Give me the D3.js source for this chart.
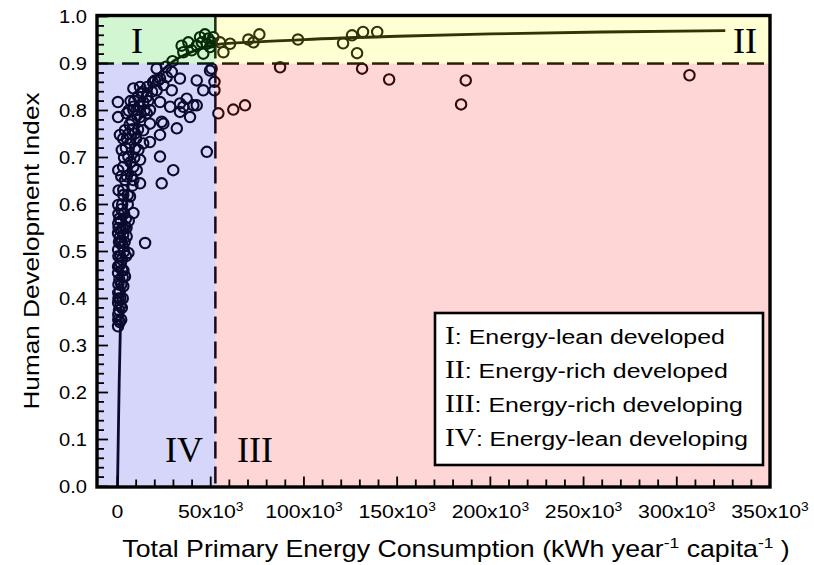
<!DOCTYPE html>
<html>
<head>
<meta charset="utf-8">
<script src="https://cdn.jsdelivr.net/npm/d3@7"></script>
<style>
  body { margin: 0; background: #fff; }
  svg { display: block; }
</style>
</head>
<body>
<svg id="chart" width="814" height="565"></svg>
<script>
// Countries: [primary energy consumption (thousand kWh / year / capita), HDI]
const countryPoints = [
  // energy-rich, HDI above and below 0.9
  [55.0, 0.945], [56.8, 0.924], [60.4, 0.942], [70.2, 0.951], [72.9, 0.945], [76.1, 0.962],
  [96.8, 0.951], [121.0, 0.943], [125.8, 0.960], [131.7, 0.967], [139.3, 0.967], [128.5, 0.922],
  [131.2, 0.889], [145.7, 0.866], [186.8, 0.864], [184.3, 0.813], [306.8, 0.875], [87.2, 0.892],
  [68.4, 0.811], [62.1, 0.802], [54.1, 0.794],
  // energy-lean developed
  [34.4, 0.938], [38.0, 0.945], [35.3, 0.924], [39.8, 0.928], [42.5, 0.938], [44.3, 0.956],
  [46.9, 0.962], [48.7, 0.953], [47.9, 0.942], [46.0, 0.921], [49.6, 0.935], [50.5, 0.945],
  [45.2, 0.945], [51.4, 0.956], [29.5, 0.905],
  // energy-lean developing, upper band
  [26.0, 0.893], [50.5, 0.889], [52.0, 0.861], [52.0, 0.843], [47.9, 0.712], [46.0, 0.843],
  [42.5, 0.864], [49.6, 0.885], [21.0, 0.889], [29.1, 0.882], [26.4, 0.871], [22.8, 0.868],
  [20.1, 0.864], [24.6, 0.854], [33.5, 0.868], [12.1, 0.850], [13.0, 0.836], [15.7, 0.829],
  [21.0, 0.843], [29.1, 0.843], [8.5, 0.808], [10.3, 0.801], [0.2, 0.818], [0.3, 0.786],
  [37.1, 0.825], [35.3, 0.808], [40.7, 0.811], [38.9, 0.786], [33.5, 0.797], [28.2, 0.808],
  [23.7, 0.776], [31.8, 0.762], [22.8, 0.748], [17.4, 0.733], [22.8, 0.702], [29.9, 0.673],
  [23.7, 0.645], [22.8, 0.818], [33.5, 0.815], [42.5, 0.811], [24.6, 0.772], [21.9, 0.864],
  [8.5, 0.847], [13.8, 0.818], [17.4, 0.801], [12.1, 0.786],
  // energy-lean developing, main cluster
  [1.3, 0.748], [2.3, 0.716], [0.4, 0.673], [4.0, 0.652], [3.1, 0.631], [8.5, 0.652],
  [10.3, 0.673], [12.1, 0.695], [13.8, 0.730], [9.4, 0.751], [7.6, 0.779], [8.5, 0.801],
  [12.1, 0.808], [15.7, 0.794], [17.4, 0.772], [5.8, 0.702], [6.7, 0.730], [4.0, 0.758],
  [4.9, 0.794], [13.8, 0.758], [11.2, 0.716], [8.5, 0.680], [12.1, 0.645], [6.7, 0.617],
  [3.5, 0.700], [5.0, 0.740], [6.5, 0.770], [7.0, 0.690], [9.5, 0.720], [11.0, 0.760],
  [3.0, 0.680], [2.0, 0.660], [10.5, 0.790], [14.5, 0.800], [16.5, 0.820], [18.5, 0.840],
  [5.5, 0.620], [8.0, 0.640], [2.5, 0.600],
  [5.0, 0.660], [7.5, 0.660], [9.0, 0.700], [4.5, 0.720], [6.0, 0.750], [8.0, 0.760],
  [10.0, 0.740], [3.0, 0.740], [6.0, 0.800], [9.0, 0.820], [11.0, 0.830], [13.5, 0.840],
  [16.0, 0.850], [19.0, 0.860], [7.0, 0.820],
  // energy-lean developing, low HDI column
  [3.1, 0.620], [0.4, 0.599], [8.5, 0.582], [14.8, 0.518], [0.4, 0.560], [4.0, 0.553],
  [0.3, 0.539], [4.9, 0.532], [1.3, 0.518], [5.8, 0.497], [0.3, 0.504], [2.3, 0.483],
  [0.3, 0.468], [4.0, 0.447], [0.3, 0.454], [3.1, 0.426], [0.4, 0.412], [0.3, 0.391],
  [2.3, 0.380], [0.4, 0.366], [0.3, 0.341],
  [1.0, 0.570], [2.0, 0.545], [3.0, 0.510], [1.5, 0.490], [2.5, 0.460], [1.0, 0.440],
  [3.5, 0.580], [2.0, 0.590], [1.5, 0.400], [0.8, 0.375], [2.0, 0.355], [1.0, 0.470],
  [3.0, 0.535], [0.8, 0.520], [4.5, 0.570], [5.5, 0.600], [0.6, 0.630], [6.0, 0.565],
  [0.5, 0.580], [1.8, 0.565], [2.8, 0.550], [0.6, 0.550], [1.2, 0.530], [2.2, 0.520],
  [3.5, 0.500], [0.5, 0.490], [1.8, 0.475], [3.2, 0.460], [0.5, 0.430], [2.0, 0.430],
  [1.2, 0.415], [2.8, 0.400], [0.5, 0.400], [1.5, 0.385], [0.4, 0.355], [1.2, 0.350],
  [2.8, 0.445], [4.5, 0.490], [3.8, 0.520], [4.8, 0.550]
];

// Fitted trend (thousand kWh, HDI)
const fitEnergyK = [0, 0.4, 0.9, 1.5, 2.5, 4, 6, 9, 13, 18, 24, 30, 40, 53, 75, 100, 150, 200, 260, 326];
const fitHdi = [0.0, 0.10, 0.22, 0.33, 0.45, 0.56, 0.65, 0.73, 0.80, 0.855, 0.885, 0.905, 0.925, 0.940, 0.946, 0.951, 0.958, 0.963, 0.967, 0.970];

const xTickValues = [0, 50000, 100000, 150000, 200000, 250000, 300000, 350000];
const yTickValues = [0, 0.1, 0.2, 0.3, 0.4, 0.5, 0.6, 0.7, 0.8, 0.9, 1.0];
const hdiThreshold = 0.9;
const energyThreshold = 52500;
const quadrantNumerals = ["I", "II", "III", "IV"];
const legendNames = ["Energy-lean developed", "Energy-rich developed", "Energy-rich developing", "Energy-lean developing"];

const svg = d3.select("#chart");
const sans = "'Liberation Sans', Arial, sans-serif";
const serif = "'Liberation Serif', 'Times New Roman', serif";

const x = d3.scaleLinear().domain([-11000, 350000]).range([97, 770]);
const y = d3.scaleLinear().domain([0, 1]).range([486.5, 16.5]);
const [x0, x1] = x.range();
const [yb, yt] = y.range();

// Widen a text horizontally about its anchor point
function stretchX(node, ax, ay, s) {
  d3.select(node).attr("transform", `translate(${ax},${ay}) scale(${s},1) translate(${-ax},${-ay})`);
}
function fitWidth(node, ax, ay, width) {
  const w = node.getBBox().width;
  stretchX(node, ax, ay, width / w);
}

svg.append("rect").attr("width", 814).attr("height", 565).attr("fill", "#fff");

// Marks sit beneath the tinted quadrant washes
const marks = svg.append("g");
marks.selectAll("circle").data(countryPoints).join("circle")
  .attr("cx", d => x(d[0] * 1000))
  .attr("cy", d => y(d[1]))
  .attr("r", 5.2)
  .attr("fill", "none")
  .attr("stroke", "#000")
  .attr("stroke-width", 2.1);

marks.append("path")
  .datum(fitEnergyK.map((e, i) => [e * 1000, fitHdi[i]]))
  .attr("fill", "none")
  .attr("stroke", "#000")
  .attr("stroke-width", 2.8)
  .attr("d", d3.line().x(d => x(d[0])).y(d => y(d[1])).curve(d3.curveMonotoneX));

marks.append("line")
  .attr("x1", x0).attr("x2", x1)
  .attr("y1", y(hdiThreshold)).attr("y2", y(hdiThreshold))
  .attr("stroke", "#000").attr("stroke-width", 2.5).attr("stroke-dasharray", "17,8");
marks.append("line")
  .attr("x1", x(energyThreshold)).attr("x2", x(energyThreshold))
  .attr("y1", yt).attr("y2", yb)
  .attr("stroke", "#000").attr("stroke-width", 2.5).attr("stroke-dasharray", "17,8");

// Quadrant washes (translucent, tint the marks below)
const washes = [
  { x: x0, y: yt, x2: x(energyThreshold), y2: y(hdiThreshold), c: "rgb(30,205,30)" },
  { x: x(energyThreshold), y: yt, x2: x1, y2: y(hdiThreshold), c: "rgb(255,255,40)" },
  { x: x(energyThreshold), y: y(hdiThreshold), x2: x1, y2: yb, c: "rgb(255,50,50)" },
  { x: x0, y: y(hdiThreshold), x2: x(energyThreshold), y2: yb, c: "rgb(50,50,230)" }
];
svg.append("g").selectAll("rect").data(washes).join("rect")
  .attr("x", d => d.x).attr("y", d => d.y)
  .attr("width", d => d.x2 - d.x).attr("height", d => d.y2 - d.y)
  .attr("fill", d => d.c).attr("fill-opacity", 0.2);

// Quadrant numerals
const numeralPos = [[137, 53], [745, 53], [255, 462], [184, 462]];
svg.append("g").selectAll("text").data(quadrantNumerals).join("text")
  .attr("x", (d, i) => numeralPos[i][0]).attr("y", (d, i) => numeralPos[i][1])
  .attr("text-anchor", "middle")
  .attr("font-family", serif).attr("font-size", 36)
  .attr("fill", "#000")
  .text(d => d);

// Axes: inward ticks, major and minor
const axes = svg.append("g").attr("stroke", "#000");
const yMinor = d3.range(0, 1.0001, 0.02);
axes.selectAll(".ytick").data(yMinor).join("line")
  .attr("x1", x0).attr("x2", (d, i) => x0 + (i % 5 === 0 ? 11 : 7))
  .attr("y1", d => y(d)).attr("y2", d => y(d))
  .attr("stroke-width", 1.8);
const xMinor = d3.range(0, 350001, 10000);
axes.selectAll(".xtick").data(xMinor).join("line")
  .attr("x1", d => x(d)).attr("x2", d => x(d))
  .attr("y1", yb).attr("y2", (d, i) => yb - (i % 5 === 0 ? 10 : 7))
  .attr("stroke-width", 1.8);

svg.append("rect")
  .attr("x", x0).attr("y", yt - 1)
  .attr("width", x1 - x0).attr("height", yb - yt + 1.5)
  .attr("fill", "none").attr("stroke", "#000").attr("stroke-width", 3.4);

// Tick labels
svg.append("g").selectAll("text").data(yTickValues).join("text")
  .attr("x", 87).attr("y", d => y(d) + 6.5)
  .attr("text-anchor", "end")
  .attr("font-family", sans).attr("font-size", 18)
  .text(d => d3.format(".1f")(d))
  .each(function (d) { stretchX(this, 87, y(d), 1.12); });

svg.append("g").selectAll("text").data(xTickValues).join("text")
  .attr("x", d => x(d)).attr("y", 518)
  .attr("text-anchor", "middle")
  .attr("font-family", sans).attr("font-size", 18.5)
  .each(function (d) {
    const t = d3.select(this);
    if (d === 0) { t.text("0"); } else {
      t.append("tspan").text(`${d / 1000}x10`);
      t.append("tspan").attr("font-size", 12).attr("dy", -7).text("3");
    }
    stretchX(this, x(d), 518, 1.15);
  });

// Axis titles
const xt = svg.append("text")
  .attr("x", 456).attr("y", 557)
  .attr("text-anchor", "middle")
  .attr("font-family", sans).attr("font-size", 23);
xt.append("tspan").text("Total Primary Energy Consumption (kWh year");
xt.append("tspan").attr("font-size", 15).attr("dy", -9).text("-1");
xt.append("tspan").attr("dy", 9).text(" capita");
xt.append("tspan").attr("font-size", 15).attr("dy", -9).text("-1");
xt.append("tspan").attr("dy", 9).text(" )");
fitWidth(xt.node(), 456, 557, 668);

const yTitle = svg.append("g").attr("transform", "translate(39,251) rotate(-90)")
  .append("text")
  .attr("x", 0).attr("y", 0)
  .attr("text-anchor", "middle")
  .attr("font-family", sans).attr("font-size", 23)
  .text("Human Development Index");
fitWidth(yTitle.node(), 0, 0, 318);

// Legend
const lg = svg.append("g");
lg.append("rect")
  .attr("x", 435).attr("y", 313).attr("width", 328).attr("height", 152)
  .attr("fill", "#fff").attr("stroke", "#000").attr("stroke-width", 2.6);
const legendWidths = [280, 283, 298, 303];
legendNames.forEach((name, i) => {
  const by = 344 + i * 34;
  const t = lg.append("text").attr("x", 445).attr("y", by);
  t.append("tspan").attr("font-family", serif).attr("font-size", 25).text(quadrantNumerals[i]);
  t.append("tspan").attr("font-family", sans).attr("font-size", 21).text(": " + name);
  fitWidth(t.node(), 445, by, legendWidths[i]);
});
</script>
</body>
</html>
